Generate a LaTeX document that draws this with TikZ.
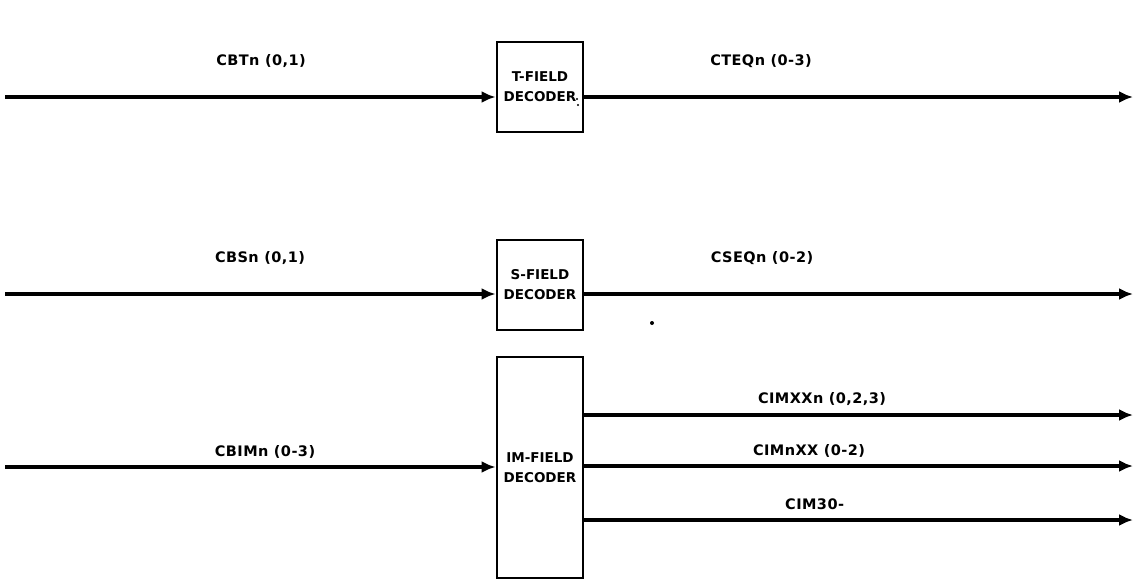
\documentclass[tikz,border=0pt]{standalone}
\usepackage{fontspec}
\setmainfont[LetterSpace=3]{DejaVu Sans}
\usetikzlibrary{arrows.meta}
\tikzset{
  x=1pt,y=-1pt,
  box/.style={draw,line width=2.8pt,minimum width=86pt,inner sep=0pt,align=center,font=\bfseries\fontsize{13.5}{20}\selectfont\addfontfeature{LetterSpace=0}},
  sig/.style={line width=3.4pt,-{Latex[length=14pt,width=12pt]}},
  lbl/.style={font=\bfseries\fontsize{14.5}{16}\selectfont,inner sep=0pt},
}
\begin{document}
\begin{tikzpicture}
\useasboundingbox (0,0) rectangle (1135,584);
% boxes
\node[box,minimum height=90pt] (T) at (540,87) {T-FIELD\\DECODER};
\node[box,minimum height=90pt] (S) at (540,285) {S-FIELD\\DECODER};
\node[box,minimum height=221pt] (IM) at (540,467.5) {IM-FIELD\\DECODER};
% free ends
\coordinate (tin) at (5,97);
\coordinate (tout) at (1133,97);
\coordinate (sin) at (5,294);
\coordinate (sout) at (1133,294);
\coordinate (imin) at (5,467);
\coordinate (o1) at (1133,415);
\coordinate (o2) at (1133,466);
\coordinate (o3) at (1133,520);
% connectors
\draw[sig] (tin) -- (T.west |- tin);
\draw[sig] (T.east |- tout) -- (tout);
\draw[sig] (sin) -- (S.west |- sin);
\draw[sig] (S.east |- sout) -- (sout);
\draw[sig] (imin) -- (IM.west |- imin);
\draw[sig] (IM.east |- o1) -- (o1);
\draw[sig] (IM.east |- o2) -- (o2);
\draw[sig] (IM.east |- o3) -- (o3);
% labels
\node[lbl] (l1) at (261,61) {CBTn (0,1)};
\node[lbl] (l2) at (761,61) {CTEQn (0-3)};
\node[lbl] (l3) at (260,258) {CBSn (0,1)};
\node[lbl] (l4) at (762,258) {CSEQn (0-2)};
\node[lbl] (l5) at (265,452) {CBIMn (0-3)};
\node[lbl] (l6) at (822,399) {CIMXXn (0,2,3)};
\node[lbl] (l7) at (809,451) {CIMnXX (0-2)};
\node[lbl,anchor=west] (l8) at (785,504) {CIM30-};
% specks
\fill (577,99) circle (1.2pt);
\fill (578,105) circle (1.2pt);
\fill (652,323) circle (2pt);
\end{tikzpicture}
\end{document}
